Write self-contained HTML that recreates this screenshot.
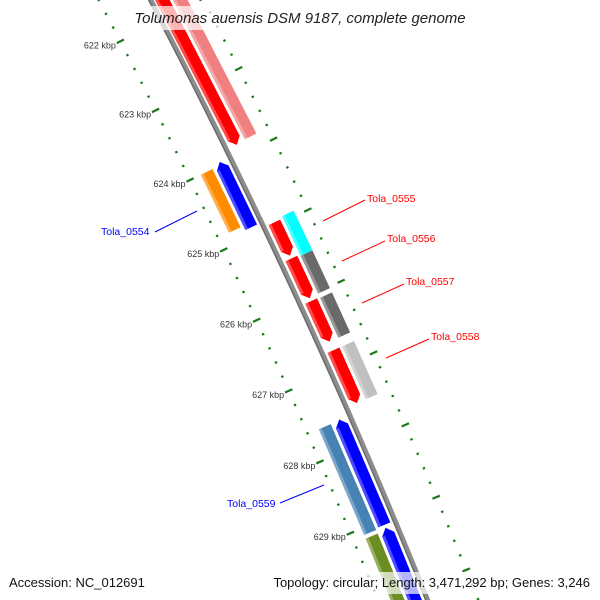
<!DOCTYPE html>
<html><head><meta charset="utf-8"><style>
html,body{margin:0;padding:0;background:#fff;width:600px;height:600px;overflow:hidden;}
svg{display:block;overflow:hidden;font-family:"Liberation Sans","DejaVu Sans",sans-serif;}
</style></head><body>
<svg id="map" width="600" height="600" viewBox="0 0 600 600">
<g id="ticks"></g>
<g id="backbone"></g>
<g id="features"></g>
<g id="labels">
  <line x1="323" y1="221" x2="365" y2="200" stroke="#ff0000" stroke-width="1"/>
  <text x="367" y="202" font-size="10.5" fill="#ff0000">Tola_0555</text>
  <line x1="342" y1="261" x2="385" y2="241" stroke="#ff0000" stroke-width="1"/>
  <text x="387" y="242" font-size="10.5" fill="#ff0000">Tola_0556</text>
  <line x1="362" y1="303" x2="404" y2="284" stroke="#ff0000" stroke-width="1"/>
  <text x="406" y="285" font-size="10.5" fill="#ff0000">Tola_0557</text>
  <line x1="386" y1="358" x2="429" y2="339" stroke="#ff0000" stroke-width="1"/>
  <text x="431" y="340" font-size="10.5" fill="#ff0000">Tola_0558</text>
  <line x1="155" y1="232" x2="197" y2="211" stroke="#0000ff" stroke-width="1"/>
  <text x="101" y="235" font-size="10.5" fill="#0000ff">Tola_0554</text>
  <line x1="280" y1="503" x2="324" y2="485" stroke="#0000ff" stroke-width="1"/>
  <text x="227" y="507" font-size="10.5" fill="#0000ff">Tola_0559</text>
</g>
<rect x="128" y="6" width="344" height="24" fill="#fff" fill-opacity="0.7"/>
<text x="300" y="23" text-anchor="middle" font-size="15" font-style="italic" fill="#222">Tolumonas auensis DSM 9187, complete genome</text>
<rect x="4" y="572" width="592" height="22" fill="#fff" fill-opacity="0.7"/>
<text x="9" y="587" font-size="13" fill="#111">Accession: NC_012691</text>
<text x="590" y="587" text-anchor="end" font-size="13" fill="#111">Topology: circular; Length: 3,471,292 bp; Genes: 3,246</text>
</svg>
<script>
// data
const featStart = [620500, 620500, 624000, 623960, 624960, 624930, 625490, 625470, 626080, 626070, 626760, 626760, 627610, 627600, 629140, 629110];
const featEnd   = [623860, 623840, 624830, 624890, 625430, 625490, 626020, 626030, 626640, 626640, 627500, 627500, 629090, 629070, 631000, 631000];
const featTrack = [1, 2, -2, -1, 1, 2, 2, 1, 2, 1, 1, 2, -2, -1, -2, -1];
const featArrow = [1, 0, 0, -1, 1, 0, 0, 1, 0, 1, 1, 0, 0, -1, 0, -1];
const featColor = ["#ff0000","#f08080","#ff8c00","#0000ff","#ff0000","#00ffff","#6a6a6a","#ff0000","#6a6a6a","#ff0000","#ff0000","#c0c0c0","#4682b4","#0000ff","#6b8e23","#0000ff"];
const tickLabels = ["622 kbp","623 kbp","624 kbp","625 kbp","626 kbp","627 kbp","628 kbp","629 kbp"];
const tickLabelBp = [622000,623000,624000,625000,626000,627000,628000,629000];

// geometry
const NS = "http://www.w3.org/2000/svg";
const cx = -5902, cy = 3158;
const R = 6827;
const th0 = Math.atan2(180 - cy, 190 - cx);
const k = 77.6 / 6781 / 1000;
function pt(bp, r){ const t = th0 + (bp - 624000) * k; return [cx + (R + r) * Math.cos(t), cy + (R + r) * Math.sin(t)]; }
function mk(tag, attrs, parent){ const e = document.createElementNS(NS, tag); for (const a in attrs) e.setAttribute(a, attrs[a]); parent.appendChild(e); return e; }

// backbone
const bb = document.getElementById('backbone');
function arcPts(b0, b1, r){ const p=[]; for(let b=b0;b<=b1;b+=200){ p.push(pt(b,r).join(',')); } return p.join(' '); }
const bl1 = mk('polyline', {points: arcPts(620600, 631400, 0), fill:'none', stroke:'#8c8c8c', 'stroke-width':5}, bb);


const bl2 = mk('polyline', {points: arcPts(620600, 631400, -1.8), fill:'none', stroke:'#6e6e6e', 'stroke-width':1.5}, bb);



// ticks
const tg = document.getElementById('ticks');
for (let b = 620600; b <= 631400; b += 200) {
  const major = (b % 1000 === 0);
  for (const r of [-46, 47]) {
    const a = pt(b, r - (major ? 4 : 1.2)), c = pt(b, r + (major ? 4 : 1.2));
    const l = mk('line', {x1:a[0], y1:a[1], x2:c[0], y2:c[1], stroke:'#1a7a1a', 'stroke-width': 2.2}, tg);
    
    
  }
}
for (let i = 0; i < tickLabels.length; i++) {
  const p = pt(tickLabelBp[i], -51);
  const t = mk('text', {x:p[0], y:p[1]+5, 'text-anchor':'end', 'font-size':9, fill:'#333'}, tg);
  t.textContent = tickLabels[i];
  
  
}

// features
const fg = document.getElementById('features');
const trackR = {1:[5,18], 2:[21,34], '-1':[-18,-5], '-2':[-34,-21]};
for (let i = 0; i < featStart.length; i++) {
  const [r1, r2] = trackR[featTrack[i]];
  const s = featStart[i], e = featEnd[i], head = 90, rm = (r1 + r2) / 2;
  let poly;
  if (featArrow[i] === 1) {
    poly = [pt(s,r1), pt(e-head,r1), pt(e,rm), pt(e-head,r2), pt(s,r2)];
  } else if (featArrow[i] === -1) {
    poly = [pt(s,rm), pt(s+head,r1), pt(e,r1), pt(e,r2), pt(s+head,r2)];
  } else {
    poly = [pt(s,r1), pt(e,r1), pt(e,r2), pt(s,r2)];
  }
  const p = mk('polygon', {points: poly.map(q=>q.join(',')).join(' '), fill: featColor[i]}, fg);
  
  
  const hs = featArrow[i] === -1 ? s + head : s, he = featArrow[i] === 1 ? e - head : e;
  const hl = mk('polygon', {points: [pt(hs,r1), pt(he,r1), pt(he,r1+3), pt(hs,r1+3)].map(q=>q.join(',')).join(' '), fill:'#ffffff', 'fill-opacity':0.3}, fg);
  
  
}
</script>
</body></html>
